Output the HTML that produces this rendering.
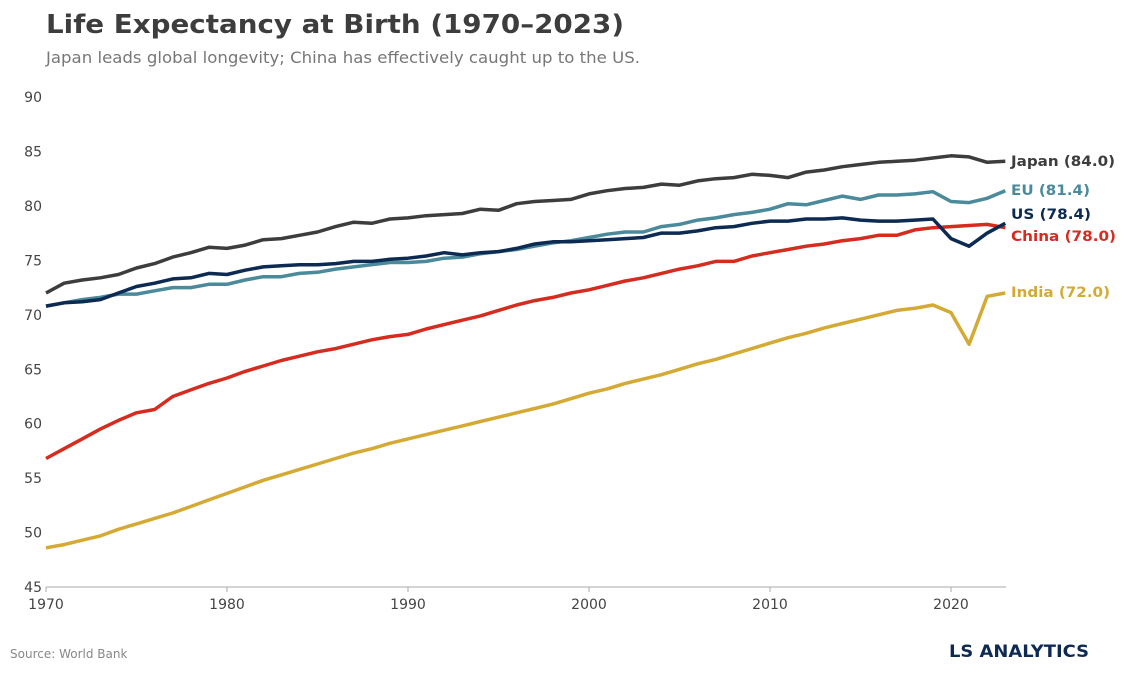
<!DOCTYPE html>
<html><head><meta charset="utf-8"><style>
body{margin:0;background:#fff;width:1126px;height:670px;overflow:hidden;font-family:"DejaVu Sans",sans-serif}
</style></head><body>
<svg id="s" width="1126" height="670" xmlns="http://www.w3.org/2000/svg" font-family="DejaVu Sans, sans-serif">
<text x="46" y="33" font-size="26" font-weight="bold" fill="#3d3d3d" textLength="578" lengthAdjust="spacingAndGlyphs">Life Expectancy at Birth (1970–2023)</text>
<text x="46" y="63" font-size="16" fill="#777" textLength="594" lengthAdjust="spacingAndGlyphs">Japan leads global longevity; China has effectively caught up to the US.</text>
<text x="10" y="658" font-size="12" fill="#888">Source: World Bank</text>
<text x="1089" y="657" font-size="17" font-weight="bold" fill="#0d2a52" text-anchor="end" textLength="140" lengthAdjust="spacingAndGlyphs">LS ANALYTICS</text>
<g id="g"></g>
</svg>
<script>
var X=function(y){return 46+(y-1970)*18.1},Y=function(v){return 97+(90-v)*10.89};
var g=document.getElementById('g'),h='';
for(var v=45;v<=90;v+=5)h+='<text x="42" y="'+(Y(v)+5)+'" font-size="14" fill="#444" text-anchor="end">'+v+'</text>';
h+='<line x1="46" y1="587" x2="1006" y2="587" stroke="#aaa"/>';
for(var y=1970;y<=2020;y+=10)h+='<line x1="'+X(y)+'" y1="587" x2="'+X(y)+'" y2="592" stroke="#aaa"/><text x="'+X(y)+'" y="609" font-size="14" fill="#444" text-anchor="middle">'+y+'</text>';
var S=[
['#d4aa35',[48.6,48.9,49.3,49.7,50.3,50.8,51.3,51.8,52.4,53.0,53.6,54.2,54.8,55.3,55.8,56.3,56.8,57.3,57.7,58.2,58.6,59.0,59.4,59.8,60.2,60.6,61.0,61.4,61.8,62.3,62.8,63.2,63.7,64.1,64.5,65.0,65.5,65.9,66.4,66.9,67.4,67.9,68.3,68.8,69.2,69.6,70.0,70.4,70.6,70.9,70.2,67.3,71.7,72.0],'India (72.0)',292,99],
['#d62b1f',[56.8,57.7,58.6,59.5,60.3,61.0,61.3,62.5,63.1,63.7,64.2,64.8,65.3,65.8,66.2,66.6,66.9,67.3,67.7,68.0,68.2,68.7,69.1,69.5,69.9,70.4,70.9,71.3,71.6,72.0,72.3,72.7,73.1,73.4,73.8,74.2,74.5,74.9,74.9,75.4,75.7,76.0,76.3,76.5,76.8,77.0,77.3,77.3,77.8,78.0,78.1,78.2,78.3,78.0],'China (78.0)',236,105],
['#4a8a9a',[70.8,71.1,71.4,71.6,71.9,71.9,72.2,72.5,72.5,72.8,72.8,73.2,73.5,73.5,73.8,73.9,74.2,74.4,74.6,74.8,74.8,74.9,75.2,75.3,75.6,75.8,76.0,76.3,76.6,76.8,77.1,77.4,77.6,77.6,78.1,78.3,78.7,78.9,79.2,79.4,79.7,80.2,80.1,80.5,80.9,80.6,81.0,81.0,81.1,81.3,80.4,80.3,80.7,81.4],'EU (81.4)',190,79],
['#0d2a52',[70.8,71.1,71.2,71.4,72.0,72.6,72.9,73.3,73.4,73.8,73.7,74.1,74.4,74.5,74.6,74.6,74.7,74.9,74.9,75.1,75.2,75.4,75.7,75.5,75.7,75.8,76.1,76.5,76.7,76.7,76.8,76.9,77.0,77.1,77.5,77.5,77.7,78.0,78.1,78.4,78.6,78.6,78.8,78.8,78.9,78.7,78.6,78.6,78.7,78.8,77.0,76.3,77.5,78.4],'US (78.4)',214,80],
['#3d3d3d',[72.0,72.9,73.2,73.4,73.7,74.3,74.7,75.3,75.7,76.2,76.1,76.4,76.9,77.0,77.3,77.6,78.1,78.5,78.4,78.8,78.9,79.1,79.2,79.3,79.7,79.6,80.2,80.4,80.5,80.6,81.1,81.4,81.6,81.7,82.0,81.9,82.3,82.5,82.6,82.9,82.8,82.6,83.1,83.3,83.6,83.8,84.0,84.1,84.2,84.4,84.6,84.5,84.0,84.1],'Japan (84.0)',161,104]];
S.forEach(function(s){var p=s[1].map(function(v,i){return X(1970+i).toFixed(1)+','+Y(v).toFixed(1)}).join(' ');
h+='<polyline points="'+p+'" fill="none" stroke="'+s[0]+'" stroke-width="3.5" stroke-linejoin="round"/>';
h+='<text x="1011" y="'+(s[3]+5)+'" font-size="14.5" font-weight="bold" fill="'+s[0]+'" textLength="'+s[4]+'" lengthAdjust="spacingAndGlyphs">'+s[2]+'</text>';});
g.innerHTML=h;
</script>
</body></html>
